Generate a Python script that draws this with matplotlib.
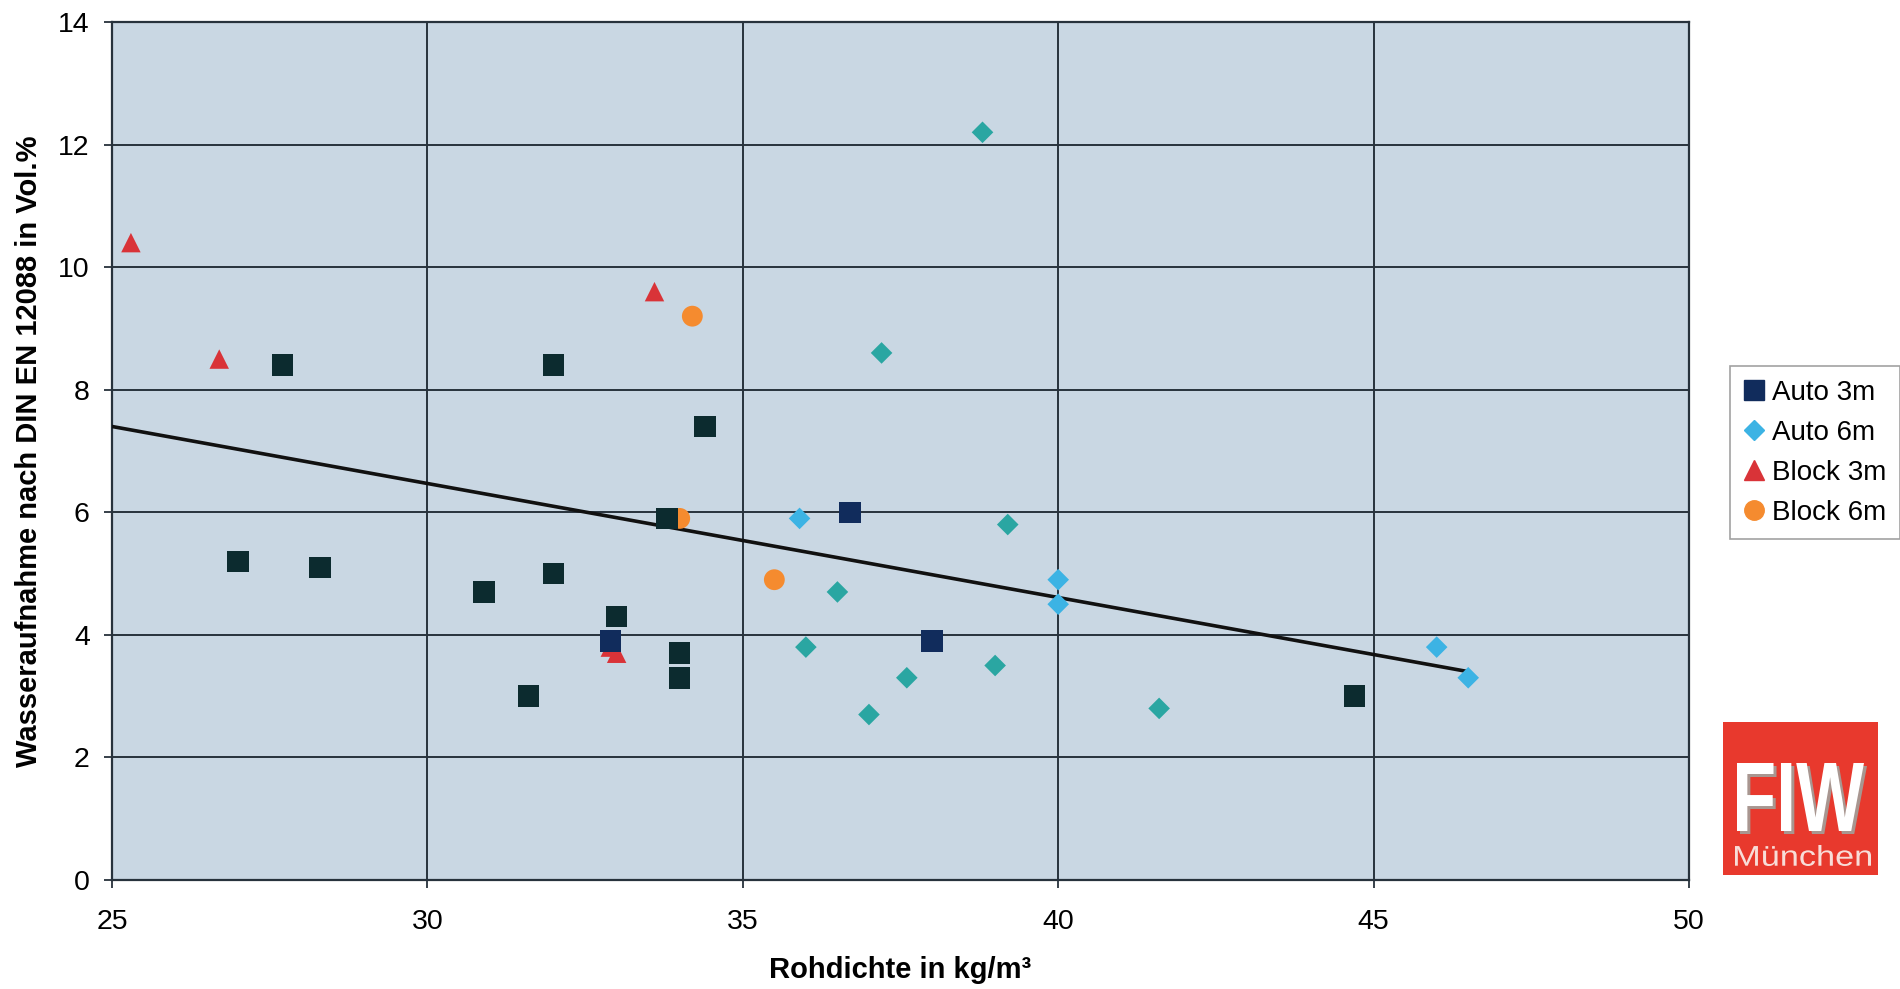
import matplotlib
matplotlib.use("Agg")
import matplotlib.pyplot as plt
from matplotlib.font_manager import FontProperties
from matplotlib.lines import Line2D
from matplotlib.patches import PathPatch, Rectangle
from matplotlib.textpath import TextPath
from matplotlib.transforms import Affine2D

plt.rcParams["font.family"] = ["Liberation Sans", "DejaVu Sans"]

# Rohdichte (kg/m^3) vs. Wasseraufnahme (Vol.-%) per product group
auto3_x = [27.7, 32.0, 34.4, 33.8, 36.7, 27.0, 28.3, 30.9, 32.0, 33.0, 32.9, 34.0, 34.0, 31.6, 38.0, 44.7]
auto3_y = [8.4, 8.4, 7.4, 5.9, 6.0, 5.2, 5.1, 4.7, 5.0, 4.3, 3.9, 3.7, 3.3, 3.0, 3.9, 3.0]

auto6_x = [38.8, 37.2, 35.9, 39.2, 36.5, 40.0, 40.0, 36.0, 39.0, 37.6, 37.0, 41.6, 46.0, 46.5]
auto6_y = [12.2, 8.6, 5.9, 5.8, 4.7, 4.9, 4.5, 3.8, 3.5, 3.3, 2.7, 2.8, 3.8, 3.3]

block3_x = [25.3, 26.7, 33.6, 32.9, 33.0]
block3_y = [10.4, 8.5, 9.6, 3.8, 3.7]

block6_x = [34.2, 34.0, 35.5]
block6_y = [9.2, 5.9, 4.9]

# linear trend line (end points)
trend_x = [25.0, 46.5]
trend_y = [7.4, 3.4]

series_labels = ["Auto 3m", "Auto 6m", "Block 3m", "Block 6m"]

NAVY = "#112c5c"
DARK = "#0c2b2f"
LIGHTBLUE = "#3cb3e4"
TEAL = "#2aa6a2"
RED = "#d93338"
ORANGE = "#f58b2f"
BG = "#c9d7e3"
GRID = "#27323c"

# a few squares printed navy, the rest almost black
auto3_colors = [NAVY if (x, y) in [(36.7, 6.0), (32.9, 3.9), (38.0, 3.9)] else DARK
                for x, y in zip(auto3_x, auto3_y)]
auto6_colors = [LIGHTBLUE if (x, y) in [(35.9, 5.9), (40.0, 4.9), (40.0, 4.5), (46.0, 3.8), (46.5, 3.3)]
                else TEAL for x, y in zip(auto6_x, auto6_y)]

fig = plt.figure(figsize=(19, 9.89), dpi=100)
ax = fig.add_axes([112 / 1900, 1 - 880 / 989, (1689 - 112) / 1900, (880 - 22) / 989])
ax.set_facecolor(BG)

ax.set_xlim(25, 50)
ax.set_ylim(0, 14)
ax.set_xticks(range(25, 51, 5))
ax.set_yticks(range(0, 15, 2))
ax.grid(True, color=GRID, lw=1.4)
ax.set_axisbelow(True)
for s in ax.spines.values():
    s.set_color(GRID)
    s.set_linewidth(1.6)

ax.tick_params(axis="both", labelsize=20.5, length=6, width=1.3, color=GRID)
ax.tick_params(axis="x", pad=15)
ax.tick_params(axis="y", pad=10)

ax.plot(trend_x, trend_y, color="#111111", lw=2.6, zorder=3)

ax.scatter(block6_x, block6_y, marker="o", s=15 ** 2, color=ORANGE, edgecolors="none", zorder=4)
ax.scatter(block3_x, block3_y, marker="^", s=14 ** 2, color=RED, edgecolors="none", zorder=4)
ax.scatter(auto3_x, auto3_y, marker="s", s=15.5 ** 2, c=auto3_colors, edgecolors="none", zorder=5)
ax.scatter(auto6_x, auto6_y, marker="D", s=11 ** 2, c=auto6_colors, edgecolors="none", zorder=5)

ax.set_xlabel("Rohdichte in kg/m³", fontsize=21, fontweight="bold", labelpad=15)
ax.set_ylabel("Wasseraufnahme nach DIN EN 12088 in Vol.%", fontsize=21,
              fontweight="bold", labelpad=11)

handles = [
    Line2D([], [], ls="none", marker="s", ms=14, color=NAVY),
    Line2D([], [], ls="none", marker="D", ms=10, color=LIGHTBLUE),
    Line2D([], [], ls="none", marker="^", ms=14, color=RED),
    Line2D([], [], ls="none", marker="o", ms=14, color=ORANGE),
]
leg = fig.legend(handles, series_labels, loc="upper left",
                 bbox_to_anchor=(1730 / 1900, 1 - 366 / 989),
                 fontsize=20, frameon=True, fancybox=False, edgecolor="#8a8a8a",
                 handlelength=0.7, handletextpad=0.3, labelspacing=0.5,
                 borderpad=0.5, borderaxespad=0.0)
leg.get_frame().set_linewidth(1.2)

# FIW logo, bottom right
logo = Rectangle((1723 / 1900, 1 - 875 / 989), 155 / 1900, 153 / 989,
                 transform=fig.transFigure, facecolor="#e8392d", edgecolor="none")
fig.patches.append(logo)


def fit_text(txt, box, weight, color, shadow=None):
    """Place txt as a path stretched into box=(x0, y0, w, h) in pixels."""
    tp = TextPath((0, 0), txt, size=10, prop=FontProperties(family="Liberation Sans", weight=weight))
    ext = tp.get_extents()
    x0, y0, w, h = box
    tr = (Affine2D().translate(-ext.x0, -ext.y0)
          .scale(w / ext.width, h / ext.height)
          .translate(x0, y0).scale(1 / 100.0))
    if shadow is not None:
        fig.patches.append(PathPatch(tp, transform=tr + Affine2D().translate(0.03, -0.03) + fig.dpi_scale_trans,
                                     facecolor=shadow, edgecolor="none"))
    fig.patches.append(PathPatch(tp, transform=tr + fig.dpi_scale_trans,
                                 facecolor=color, edgecolor="none"))


fit_text("FIW", (1737, 989 - 831, 127, 68), "bold", "white", shadow="#a89690")
fit_text("München", (1735, 989 - 866, 136, 21), "normal", "#f8ddd8")

fig.savefig("out.png", dpi=100)
